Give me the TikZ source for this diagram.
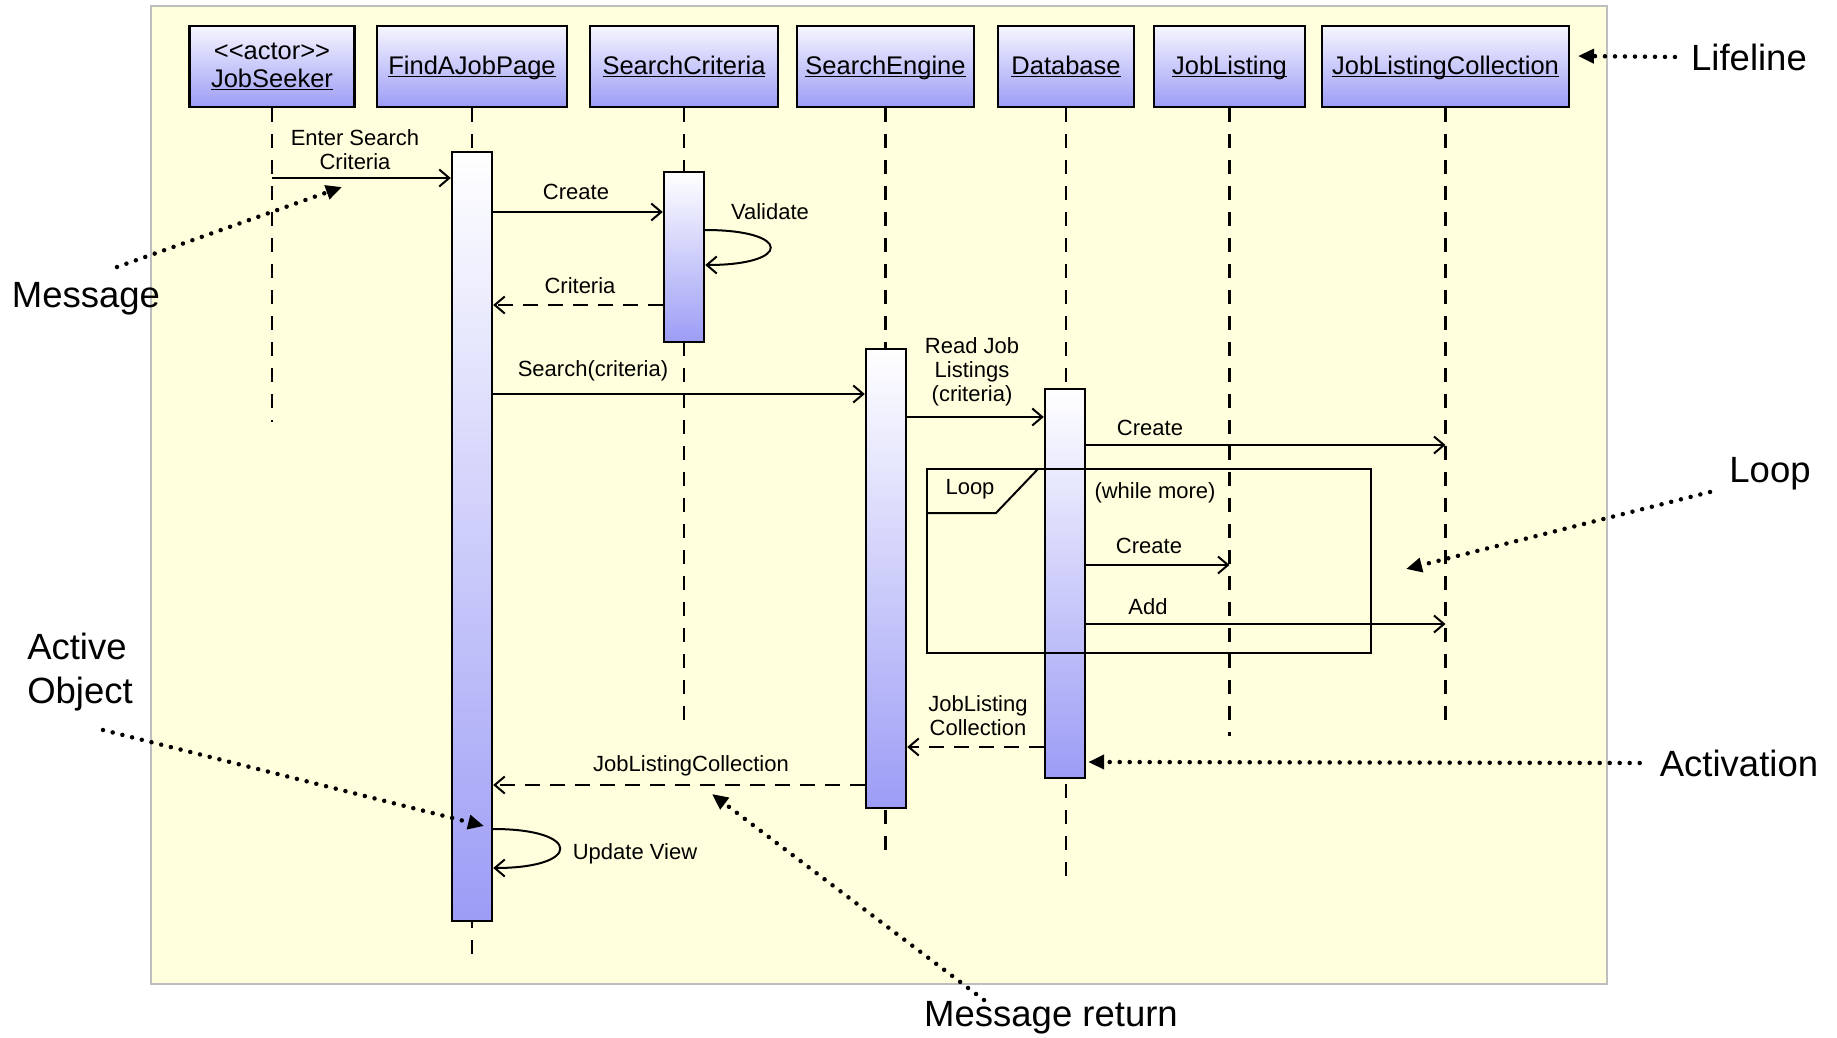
\documentclass[tikz,border=0pt]{standalone}
\usepackage{fontspec}
\setmainfont{Liberation Sans}
\usepackage{xcolor}
\usetikzlibrary{arrows.meta,positioning,calc}

\definecolor{paper}{RGB}{255,255,221}
\definecolor{frameline}{RGB}{190,190,190}
\definecolor{lavtop}{RGB}{246,246,255}
\definecolor{lavbot}{RGB}{156,156,246}

\newcommand\objname[1]{\underline{\raisebox{0pt}[\height][0pt]{#1}}}

\begin{document}
\begin{tikzpicture}[
  x=1pt, y=-1pt,
  font=\fontsize{22}{24}\selectfont,
  head/.style={draw, line width=2.4pt, top color=lavtop, bottom color=lavbot, minimum height=81pt, inner sep=0pt, align=center, font=\fontsize{25.5}{28}\selectfont},
  act/.style={draw, line width=2.4pt, top color=white, bottom color=lavbot, minimum width=40pt, inner sep=0pt},
  life/.style={line width=2.2pt, dash pattern=on 14pt off 12pt},
  msg/.style={line width=2pt, -{Straight Barb[length=10pt,width=17pt,line width=2pt]}},
  ret/.style={msg, dash pattern=on 15pt off 10pt},
  lbl/.style={inner sep=0pt, align=center},
  note/.style={line width=4.5pt, line cap=round, dash pattern=on 0pt off 10pt, -{Triangle[length=16pt,width=14pt]}},
  callout/.style={inner sep=0pt, align=left, font=\fontsize{36.5}{44}\selectfont}
]
\useasboundingbox (0,0) rectangle (1837,1038);
\draw[frameline, fill=paper, line width=1.5pt] (151,6) rectangle (1607,984);

% lifeline heads
\node[head, minimum width=165pt] (hSeeker) at (272,66.5) {<{}<actor>{}>\\\objname{JobSeeker}};
\node[head, minimum width=190pt] (hPage) at (472,66.5) {\objname{FindAJobPage}};
\node[head, minimum width=188pt] (hCrit) at (684,66.5) {\objname{SearchCriteria}};
\node[head, minimum width=177pt] (hEngine) at (885.5,66.5) {\objname{SearchEngine}};
\node[head, minimum width=136pt] (hDb) at (1066,66.5) {\objname{Database}};
\node[head, minimum width=151pt] (hListing) at (1229.5,66.5) {\objname{JobListing}};
\node[head, minimum width=247pt] (hColl) at (1445.5,66.5) {\objname{JobListingCollection}};

\foreach \o/\e in {Seeker/422, Page/963, Crit/732, Engine/855, Db/887, Listing/736, Coll/732}
  \draw[life] (h\o.south) -- (h\o.south |- 0,\e);

% activations
\node[act, minimum height=769pt] (aPage) at (472,536.5) {};
\node[act, minimum height=170pt] (aCrit) at (684,257) {};
\node[act, minimum height=459pt] (aEngine) at (886,578.5) {};
\node[act, minimum height=389pt] (aDb) at (1065,583.5) {};

% messages
\draw[msg] (hSeeker.south |- 0,178) -- (aPage.west |- 0,178);
\node[lbl] (lEnter) at (355,149.5) {Enter Search\\Criteria};
\draw[msg] (aPage.east |- 0,212) -- (aCrit.west |- 0,212);
\node[lbl] (lCreate) at (576,192) {Create};
\draw[msg] (aCrit.east |- 0,230) .. controls +(87,0) and +(87,0) .. (aCrit.east |- 0,265);
\node[lbl] (lValidate) at (770,212) {Validate};
\draw[ret] (aCrit.west |- 0,305) -- (aPage.east |- 0,305);
\node[lbl] (lCriteria) at (580,286) {Criteria};
\draw[msg] (aPage.east |- 0,394) -- (aEngine.west |- 0,394);
\node[lbl] (lSearch) at (593,371) {Search(criteria)};
\draw[msg] (aEngine.east |- 0,417) -- (aDb.west |- 0,417);
\node[lbl] (lRead) at (972,372) {Read Job\\Listings\\(criteria)};
\draw[msg] (aDb.east |- 0,445) -- (hColl.south |- 0,445);
\node[lbl] (lCreateColl) at (1150,428) {Create};

% loop fragment
\draw[line width=2pt] (927,469) rectangle (1371,653);
\draw[line width=2pt] (927,513) -- (996,513) -- (1038,469);
\node[lbl] (lLoop) at (970,489) {Loop};
\node[lbl] (lWhile) at (1155,493) {(while more)};
\draw[msg] (aDb.east |- 0,565) -- (hListing.south |- 0,565);
\node[lbl] (lCreateList) at (1149,546) {Create};
\draw[msg] (aDb.east |- 0,624) -- (hColl.south |- 0,624);
\node[lbl] (lAdd) at (1148,607) {Add};

\draw[ret] (aDb.west |- 0,747) -- (aEngine.east |- 0,747);
\node[lbl] (lBack) at (978,716) {JobListing\\Collection};
\draw[ret] (aEngine.west |- 0,785) -- (aPage.east |- 0,785);
\node[lbl] (lResult) at (691,766) {JobListingCollection};
\draw[msg] (aPage.east |- 0,829) .. controls +(89,0) and +(89,0) .. (aPage.east |- 0,868);
\node[lbl] (lUpdate) at (635,854) {Update View};

% callouts
\node[callout] (tLife) at (1749,57) {Lifeline};
\coordinate (pLife) at (1578,56);
\draw[note] ([xshift=-16pt]tLife.west) -- (pLife);

\node[callout] (tMsg) at (86,299) {Message};
\coordinate (sMsg) at (117,267);
\coordinate (pMsg) at (342,187);
\draw[note] (sMsg) -- (pMsg);

\node[callout] (tLoop) at (1770,474) {Loop};
\coordinate (sLoop) at (1710,492);
\coordinate (pLoop) at (1406,569);
\draw[note] (sLoop) -- (pLoop);

\node[callout] (tAct) at (1739,763) {Activation};
\draw[note] ([xshift=-20pt]tAct.west) -- ([xshift=2pt]aDb.east |- 0,762);

\node[callout] (tActive) at (80,672) {Active\\Object};
\coordinate (sActive) at (103,730);
\coordinate (pActive) at (484,826);
\draw[note] (sActive) -- (pActive);

\node[callout] (tReturn) at (1051,1018) {Message return};
\coordinate (sReturn) at (984,1000);
\coordinate (pReturn) at (712,794);
\draw[note] (sReturn) -- (pReturn);
\end{tikzpicture}
\end{document}
